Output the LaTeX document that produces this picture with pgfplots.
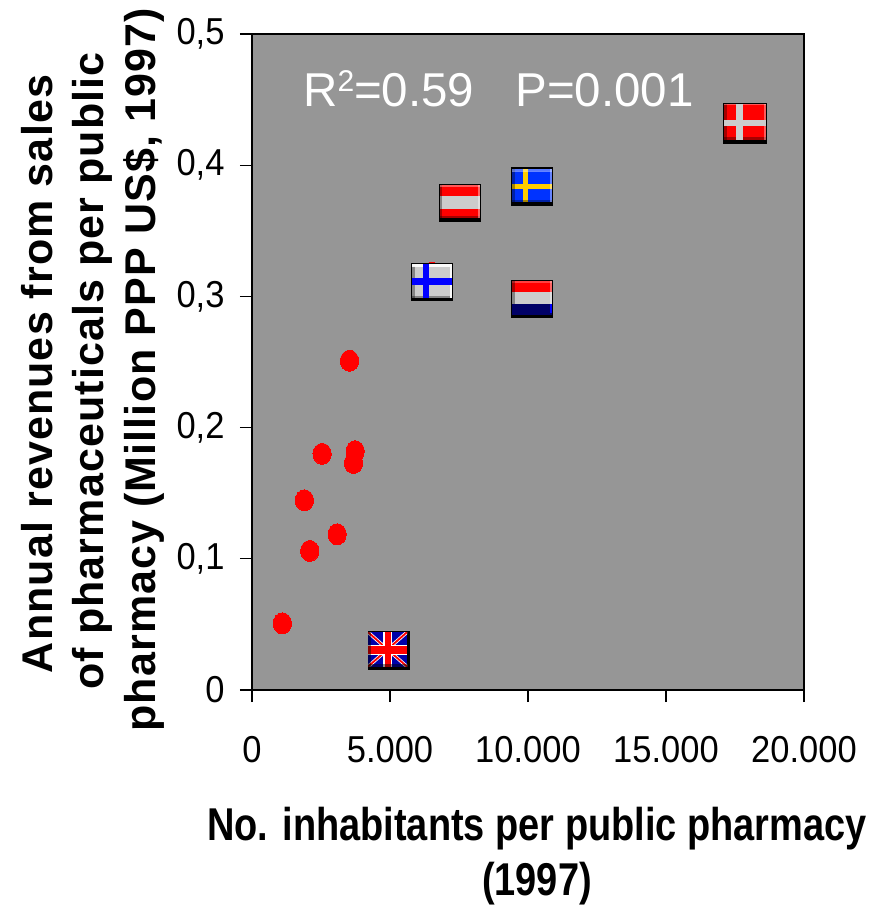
\documentclass[border=0pt]{standalone}
\usepackage{fontspec}
\setmainfont{Liberation Sans}
\newfontfamily\tickfont[FakeStretch=0.92]{Liberation Sans}
\newfontfamily\xlabfont[FakeStretch=0.825]{Liberation Sans}
\newfontfamily\ylfont[LetterSpace=2.6]{Liberation Sans}
\usepackage{pgfplots}
\pgfplotsset{compat=1.18}
\definecolor{plotgrey}{RGB}{150,150,150}
\definecolor{flaggrey}{RGB}{204,204,204}
\definecolor{sweblue}{RGB}{0,51,255}
\definecolor{sweyel}{RGB}{255,204,0}
\definecolor{navy}{RGB}{0,0,102}
\definecolor{ukblue}{RGB}{0,0,170}
% filled rectangle in mark coordinates (pt, relative to the point)
\newcommand{\FR}[5]{\pgfsetfillcolor{#1}\pgfpathrectanglecorners{\pgfpoint{#2pt}{#3pt}}{\pgfpoint{#4pt}{#5pt}}\pgfusepath{fill}}
\newcommand{\SH}[6]{\begin{pgfscope}\pgfsetfillopacity{#2}\FR{#1}{#3}{#4}{#5}{#6}\end{pgfscope}}
\newcommand{\LN}[6]{\pgfsetstrokecolor{#1}\pgfsetlinewidth{#2pt}\pgfpathmoveto{\pgfpoint{#3pt}{#4pt}}\pgfpathlineto{\pgfpoint{#5pt}{#6pt}}\pgfusepath{stroke}}
% bevel of the flag icons: dark left and bottom, light top and right
\newcommand{\Bevel}{%
  \SH{black}{0.35}{-20}{-15.5}{-17.5}{18}%
  \SH{black}{0.35}{-20}{-15.5}{20}{-13.5}%
  \SH{white}{0.35}{-20}{16.2}{20}{18}%
  \SH{white}{0.40}{18}{-15.5}{20}{18}}
\newcommand{\Frame}{\FR{black}{-21}{-19}{21}{19.3}}
\pgfdeclareplotmark{flagDK}{\FR{black}{-22}{-20.5}{22}{20.5}
  \FR{red}{-21}{-17}{21}{19.5}
  \SH{black}{0.35}{-21}{-17}{-18}{19.5}
  \SH{black}{0.35}{-21}{-17}{21}{-14}
  \SH{white}{0.35}{-21}{18}{21}{19.5}
  \SH{white}{0.35}{19.5}{-17}{21}{19.5}
  \FR{flaggrey}{-9}{-17}{-2}{19.5}
  \FR{flaggrey}{-21}{-3}{21}{3}}
\pgfdeclareplotmark{flagSE}{\Frame
  \FR{sweblue}{-20}{-15.5}{20}{18}
  \FR{sweyel}{-9}{-15.5}{-4}{18}
  \FR{sweyel}{-20}{-2.5}{20}{2.5}
  \Bevel
  \SH{white}{0.4}{-20}{15}{20}{16.2}}
\pgfdeclareplotmark{flagAT}{\Frame
  \FR{red}{-20}{-15.5}{20}{18}
  \FR{flaggrey}{-20}{-6}{20}{6.5}
  \Bevel}
\pgfdeclareplotmark{flagFI}{\Frame
  \FR{flaggrey}{-20}{-15.5}{20}{18}
  \Bevel
  \SH{white}{0.9}{-20}{15}{20}{18}
  \SH{white}{0.9}{18}{-15.5}{20}{18}
  \FR{blue}{-9}{-16}{-3}{18.5}
  \FR{blue}{-20}{-3}{20}{4}}
\pgfdeclareplotmark{flagNL}{\Frame
  \FR{red}{-20}{7}{20}{18}
  \FR{flaggrey}{-20}{-5}{20}{7}
  \FR{navy}{-20}{-15.5}{20}{-5}
  \SH{white}{0.40}{18}{-5}{20}{18}
  \SH{white}{0.25}{-20}{16.2}{20}{18}
  \SH{black}{0.35}{-20}{-5}{-17.5}{18}
  \FR{blue}{18}{-14}{20}{-5}}
\pgfdeclareplotmark{flagUK}{\Frame
  \begin{pgfscope}
  \pgfpathrectanglecorners{\pgfpoint{-21}{-16}}{\pgfpoint{18}{18.5}}\pgfusepath{clip}
  \FR{ukblue}{-21}{-16}{18}{18.5}
  \pgfsetbuttcap
  \LN{white}{3.4}{-21}{18.5}{18}{-16}
  \LN{white}{3.4}{-21}{-16}{18}{18.5}
  \LN{red}{1.8}{-21}{18.5}{18}{-16}
  \LN{red}{1.8}{-21}{-16}{18}{18.5}
  \FR{white}{-5.7}{-16}{3}{18.5}
  \FR{white}{-21}{-4.3}{18}{6}
  \FR{red}{-4.3}{-16}{1.7}{18.5}
  \FR{red}{-21}{-3.3}{18}{5}
  \end{pgfscope}
  \SH{black}{0.45}{-21}{-16}{-18.5}{18.5}
  \SH{black}{0.45}{-21}{-16}{18}{-13.5}}
\begin{document}
\begin{tikzpicture}[x=1pt,y=1pt]
\useasboundingbox (0,0) rectangle (878,906);
\begin{axis}[
  at={(252pt,216pt)}, anchor=south west,
  scale only axis, width=552pt, height=656pt,
  xmin=0, xmax=20000, ymin=0, ymax=0.5,
  axis background/.style={fill=plotgrey},
  axis line style={line width=1.6pt,black},
  xtick={0,5000,10000,15000,20000},
  xticklabels={0,5.000,10.000,15.000,20.000},
  ytick={0,0.1,0.2,0.3,0.4,0.5},
  yticklabels={0,{0,1},{0,2},{0,3},{0,4},{0,5}},
  scaled x ticks=false, scaled y ticks=false,
  tick align=outside, tick pos=lower,
  major tick length=12pt,
  tick style={line width=1.3pt,black},
  tick label style={font=\fontsize{37.5}{40}\selectfont\tickfont},
  x tick label style={yshift=-31pt},
  y tick label style={xshift=-12pt},
  clip=false,
]
\addplot[only marks, mark=*, mark size=10.5pt, mark options={xscale=0.87,fill=red,draw=red,line width=0pt}]
  coordinates {(3533,0.251)(2541,0.180)(3738,0.182)(3678,0.173)(1899,0.1446)
               (3085,0.1187)(2093,0.106)(1100,0.0508)(6520,0.318)};
\addplot[only marks, mark=flagUK] coordinates {(4964,0.0300)};
\addplot[only marks, mark=flagFI] coordinates {(6530,0.3108)};
\addplot[only marks, mark=flagAT] coordinates {(7536,0.3712)};
\addplot[only marks, mark=flagSE] coordinates {(10145,0.3836)};
\addplot[only marks, mark=flagNL] coordinates {(10145,0.2980)};
\addplot[only marks, mark=flagDK] coordinates {(17862,0.4320)};
\end{axis}
\node[white,anchor=base west,inner sep=0pt,font=\fontsize{47.5}{50}\selectfont] at (303,799) {R\raisebox{15pt}{\fontsize{30}{31}\selectfont 2}=0.59\hspace{41pt}P=0.001};
\node[anchor=base,inner sep=0pt,font=\fontsize{46}{50}\selectfont\xlabfont\bfseries] at (537,65) {No. inhabitants per public pharmacy};
\node[anchor=base,inner sep=0pt,font=\fontsize{46}{50}\selectfont\xlabfont\bfseries] at (537,10) {(1997)};
\begin{scope}[every node/.style={rotate=90,anchor=base,inner sep=0pt,font=\fontsize{43}{48}\selectfont\ylfont\bfseries}]
\node at (53,532) {Annual revenues from sales};
\node at (103,535) {of pharmaceuticals per public};
\node at (155,536) {pharmacy (Million PPP US\$, 1997)};
\end{scope}
\end{tikzpicture}
\end{document}
